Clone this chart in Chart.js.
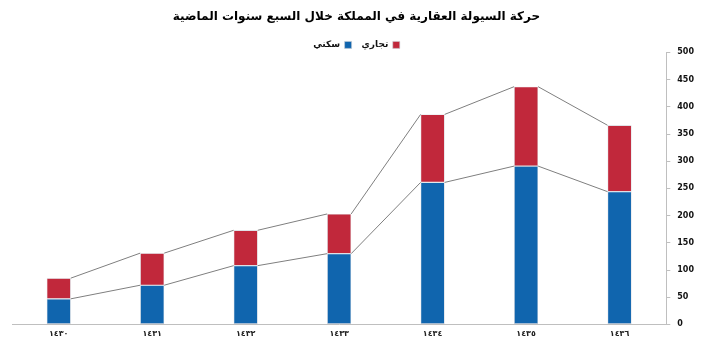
<!DOCTYPE html>
<html>
<head>
<meta charset="utf-8">
<script src="https://cdn.jsdelivr.net/npm/chart.js@4/dist/chart.umd.min.js"></script>
<style>
  html, body { margin: 0; padding: 0; background: #fff; }
  #wrap { width: 702px; height: 351px; }
</style>
</head>
<body>
<div id="wrap"><canvas id="chart"></canvas></div>
<script>
const years = ['١٤٣٠', '١٤٣١', '١٤٣٢', '١٤٣٣', '١٤٣٤', '١٤٣٥', '١٤٣٦'];
const residential = [47, 72, 108, 130, 261, 291, 244];   // سكني
const commercial = [38, 59, 65, 73, 125, 146, 122];       // تجاري
const yTicks = [0, 50, 100, 150, 200, 250, 300, 350, 400, 450, 500];

// lignes de série entre les barres (comme Excel)
const seriesLines = {
  id: 'seriesLines',
  afterDatasetsDraw(chart) {
    const ctx = chart.ctx;
    ctx.save();
    ctx.strokeStyle = '#7f7f7f';
    ctx.lineWidth = 1;
    chart.data.datasets.forEach((ds, d) => {
      const bars = chart.getDatasetMeta(d).data;
      for (let i = 0; i < bars.length - 1; i++) {
        const a = bars[i], b = bars[i + 1];
        ctx.beginPath();
        ctx.moveTo(a.x + a.width / 2, a.y);
        ctx.lineTo(b.x - b.width / 2, b.y);
        ctx.stroke();
      }
    });
    ctx.restore();
  }
};

// la légende garde son espacement mais prend moins de hauteur
const legendTight = {
  id: 'legendTight',
  beforeInit(chart) {
    const fit = chart.legend.fit;
    chart.legend.fit = function () {
      fit.call(this);
      this.height -= 7;
    };
  }
};

new Chart(document.getElementById('chart'), {
  type: 'bar',
  data: {
    labels: years,
    datasets: [{
      label: 'سكني',
      data: residential,
      backgroundColor: '#1065ae',
      borderColor: '#c8ccd4',
      borderWidth: 0.6,
      borderSkipped: false
    }, {
      label: 'تجاري',
      data: commercial,
      backgroundColor: '#c1283b',
      borderColor: '#c8ccd4',
      borderWidth: 0.6,
      borderSkipped: false
    }]
  },
  options: {
    responsive: true,
    maintainAspectRatio: false,
    animation: false,
    categoryPercentage: 1,
    barPercentage: 0.257,
    layout: { padding: { left: 12, right: 1, top: 0, bottom: 7 } },
    plugins: {
      tooltip: { enabled: false },
      title: {
        display: true,
        text: 'حركة السيولة العقارية في المملكة خلال السبع سنوات الماضية',
        color: '#000',
        font: { family: 'DejaVu Sans', size: 12, weight: 'bold' },
        padding: { top: 10, bottom: 6 }
      },
      legend: {
        rtl: true,
        reverse: true,
        labels: {
          color: '#111',
          boxWidth: 7,
          boxHeight: 7,
          padding: 10,
          font: { family: 'DejaVu Sans', size: 9, weight: 'bold' }
        }
      }
    },
    scales: {
      x: {
        stacked: true,
        grid: { display: false, drawTicks: false },
        border: { color: '#bfbfbf' },
        ticks: {
          color: '#222',
          padding: 5,
          font: { family: 'DejaVu Sans', size: 8, weight: 'bold' }
        }
      },
      y: {
        stacked: true,
        position: 'right',
        min: 0,
        max: 500,
        afterBuildTicks: axis => { axis.ticks = yTicks.map(v => ({ value: v })); },
        grid: { drawOnChartArea: false, tickLength: 4, color: '#bfbfbf' },
        border: { color: '#bfbfbf' },
        ticks: {
          color: '#111',
          padding: 7,
          font: { family: 'DejaVu Sans', size: 8, weight: 'bold' }
        }
      }
    }
  },
  plugins: [seriesLines, legendTight]
});
</script>
</body>
</html>
